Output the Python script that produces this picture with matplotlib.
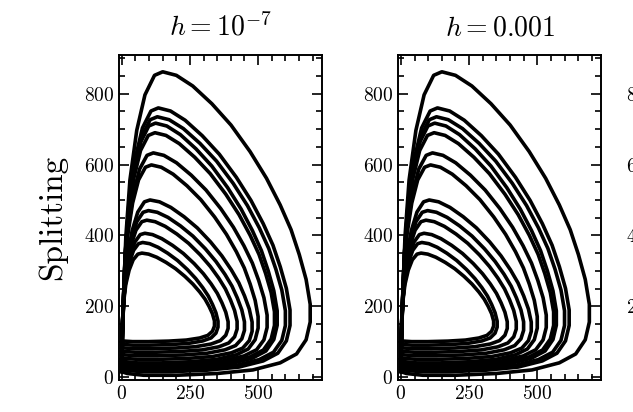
import numpy as np
import matplotlib
matplotlib.use("Agg")
import matplotlib.pyplot as plt
from matplotlib.ticker import MultipleLocator

plt.rcParams["font.family"] = "serif"
plt.rcParams["font.serif"] = ["cmr10", "DejaVu Serif"]
plt.rcParams["mathtext.fontset"] = "cm"
plt.rcParams["axes.formatter.use_mathtext"] = True

# outer orbit (data units)
outer_x = [0, 5, 15, 30, 55, 85, 120, 150, 200, 260, 330, 400, 470, 530, 580, 620, 650,
           675, 690, 690, 675, 640, 580, 480, 350, 200, 80, 20, 0]
outer_y = [20, 200, 400, 560, 700, 800, 855, 865, 855, 825, 775, 715, 640, 565, 490, 420, 350,
           280, 210, 160, 110, 70, 45, 25, 15, 10, 10, 15, 20]

# successive orbits: peak height, right-most x, lowest y
peaks = [862, 760, 735, 717, 690, 633, 599, 500, 470, 443, 406, 380, 350]
widths = [691, 617, 600, 570, 560, 533, 500, 478, 450, 423, 390, 353, 340]
bottoms = [5, 15, 20, 25, 30, 35, 40, 50, 60, 70, 80, 90, 100]

titles = [r"$h = 10^{-7}$", r"$h = 0.001$", r"$h = 0.01$"]


def plot_orbits(ax):
  ox = np.array(outer_x, float) / max(outer_x)
  oy = (np.array(outer_y, float) - min(outer_y)) / (max(outer_y) - min(outer_y))
  for p, w, b in zip(peaks, widths, bottoms):
    ax.plot(ox * w, b + oy * (p - b), color="k", lw=2.6, solid_joinstyle="round")
  ax.set_xlim(-10, 735)
  ax.set_ylim(-8, 910)
  ax.set_xticks([0, 250, 500])
  ax.set_yticks([0, 200, 400, 600, 800])
  ax.xaxis.set_minor_locator(MultipleLocator(50))
  ax.yaxis.set_minor_locator(MultipleLocator(50))
  ax.tick_params(which="both", direction="in", top=True, right=True, labelsize=14, width=1.2)
  ax.tick_params(which="major", length=7)
  ax.tick_params(which="minor", length=4)
  for s in ax.spines.values():
    s.set_linewidth(1.4)


fig = plt.figure(figsize=(6.33, 4.12), dpi=100)
lefts = [0.188, 0.629, 1.045]
for i, l in enumerate(lefts):
  ax = fig.add_axes([l, 0.078, 0.321, 0.789])
  plot_orbits(ax)
  ax.set_title(titles[i], fontsize=20, pad=14)
  if i == 0:
    ax.set_ylabel("Splitting", fontsize=24, labelpad=12)

fig.savefig("out.png", dpi=100)
